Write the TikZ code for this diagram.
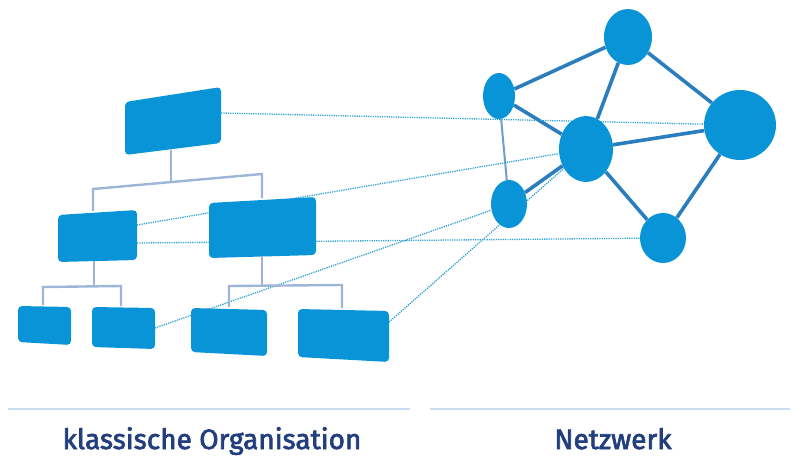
\documentclass[tikz,border=0pt]{standalone}
\usepackage{fontspec}
\setmainfont{Fira Sans}
\newfontfamily\captionfont[FakeBold=2.4]{Fira Sans}
\usetikzlibrary{shapes.geometric,backgrounds}
\definecolor{boxblue}{HTML}{0A94D8}
\definecolor{edgeblue}{HTML}{2B7EBE}
\definecolor{thinedge}{HTML}{6A9FCF}
\definecolor{treeline}{HTML}{9DB5D6}
\definecolor{dotblue}{HTML}{2A9FD4}
\definecolor{ruleblue}{HTML}{C9DEF0}
\definecolor{navy}{HTML}{223E7C}
\tikzset{
  orgbox/.style={fill=boxblue, rounded corners=4pt},
  hub/.style={ellipse, fill=boxblue, inner sep=0pt},
  tie/.style={draw=edgeblue, line width=3.6pt},
  thintie/.style={draw=thinedge, line width=2pt},
  tree/.style={draw=treeline, line width=2.4pt},
  link/.style={draw=dotblue, line width=1.3pt, dash pattern=on 1.2pt off 1.1pt},
  baseline rule/.style={draw=ruleblue, line width=1.6pt},
  caption/.style={text=navy, font=\captionfont\fontsize{28}{32}\selectfont, anchor=base}
}
\begin{document}
\begin{tikzpicture}[x=1pt, y=-1pt]
\useasboundingbox (0,0) rectangle (794,455);

% ---------- hierarchy: boxes ----------
\fill[orgbox] (125,102) -- (221,87) -- (221,143) -- (125,155) -- cycle;
\fill[orgbox] (58,215) -- (137,210) -- (137,260) -- (58,262) -- cycle;
\fill[orgbox] (209,203) -- (316,197) -- (316,255) -- (209,258) -- cycle;
\fill[orgbox] (18,306) -- (71,307) -- (71,345) -- (18,342) -- cycle;
\fill[orgbox] (92,307) -- (155,308) -- (155,349) -- (92,347) -- cycle;
\fill[orgbox] (191,308) -- (267,310) -- (267,356) -- (191,352) -- cycle;
\fill[orgbox] (298,309) -- (389,311) -- (389,362) -- (298,357) -- cycle;

% anchor points on the boxes
\coordinate (top-s) at (171,150);
\coordinate (top-e) at (221,113);
\coordinate (ml-n) at (93,211);
\coordinate (ml-s) at (94,261);
\coordinate (ml-e1) at (137,225);
\coordinate (ml-e2) at (137,243);
\coordinate (mr-n) at (262,198);
\coordinate (mr-s) at (262,256);
\coordinate (b1-n) at (43,305);
\coordinate (b2-n) at (121,306);
\coordinate (b2-e) at (155,328);
\coordinate (b3-n) at (229,307);
\coordinate (b4-n) at (342,308);
\coordinate (b4-e) at (389,322);

% branching points of the tree
\coordinate (j0) at (171,182);
\coordinate (j0l) at (93,189);
\coordinate (j0r) at (262,174);
\coordinate (j1) at (94,286);
\coordinate (j1l) at (43,287);
\coordinate (j1r) at (121,286);
\coordinate (j2) at (262,285);
\coordinate (j2l) at (229,286);
\coordinate (j2r) at (342,285);

% ---------- hierarchy: tree lines ----------
\draw[tree] (top-s) -- (j0);
\draw[tree] (ml-n) -- (j0l) -- (j0r) -- (mr-n);
\draw[tree] (ml-s) -- (j1);
\draw[tree] (b1-n) -- (j1l) -- (j1r) -- (b2-n);
\draw[tree] (mr-s) -- (j2);
\draw[tree] (b3-n) -- (j2l) -- (j2r) -- (b4-n);

% ---------- network ----------
\node[hub, minimum width=48pt, minimum height=56pt] (n1) at (628,37) {};
\node[hub, minimum width=32pt, minimum height=46pt] (n2) at (499,96) {};
\node[hub, minimum width=54pt, minimum height=66pt] (n3) at (586,149) {};
\node[hub, minimum width=72pt, minimum height=70pt] (n4) at (740,125) {};
\node[hub, minimum width=36pt, minimum height=48pt] (n5) at (509,204) {};
\node[hub, minimum width=46pt, minimum height=50pt] (n6) at (663,238) {};

\begin{pgfonlayer}{background}
  \draw[tie] (n2) -- (n1);
  \draw[tie] (n1) -- (n3);
  \draw[tie] (n1) -- (n4);
  \draw[tie] (n2) -- (n3);
  \draw[thintie] (n2) -- (n5);
  \draw[tie] (n3) -- (n4);
  \draw[tie] (n3) -- (n5);
  \draw[tie] (n3) -- (n6);
  \draw[tie] (n4) -- (n6);
  % dotted links from the hierarchy to the network
  \draw[link] (top-e) -- (n4);
  \draw[link] (ml-e1) -- (n3);
  \draw[link] (ml-e2) -- (n6);
  \draw[link] (b2-e) -- (n5);
  \draw[link] (b4-e) -- (n3);
\end{pgfonlayer}

% ---------- captions ----------
\coordinate (r1a) at (8,409);
\coordinate (r1b) at (410,409);
\coordinate (r2a) at (430,409);
\coordinate (r2b) at (790,409);
\draw[baseline rule] (r1a) -- (r1b);
\draw[baseline rule] (r2a) -- (r2b);
\node[caption] (cap1) at (212,449) {klassische Organisation};
\node[caption] (cap2) at (613,449) {Netzwerk};
\end{tikzpicture}
\end{document}
